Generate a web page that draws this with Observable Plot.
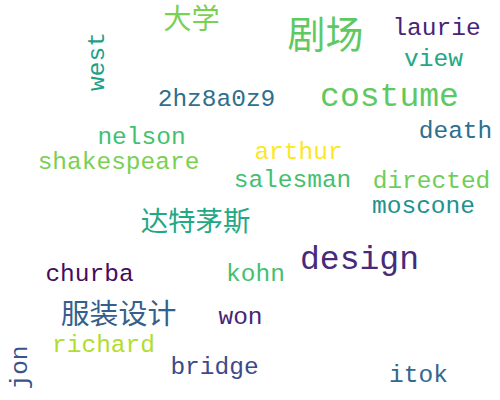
<!DOCTYPE html>
<html>
<head>
<meta charset="utf-8">
<script src="https://cdn.jsdelivr.net/npm/d3@7"></script>
<script src="https://cdn.jsdelivr.net/npm/@observablehq/plot@0.6"></script>
<style>
  html, body { margin: 0; padding: 0; background: #fff; }
</style>
</head>
<body>
<div id="chart"></div>
<script>
// Word cloud data
const words = ["大学","剧场","laurie","west","view","2hz8a0z9","costume","nelson","death","shakespeare","arthur","salesman","directed","moscone","达特茅斯","design","churba","kohn","服装设计","won","richard","jon","bridge","itok"];
// relative weight (font size driver)
const weights = [1.15,1.55,1,1,1,1,1.35,1,1,1,1,1,1,1,1.12,1.35,1,1,1.18,1,1,1,1,1];
// colour value on viridis scale
const colorValues = [0.80,0.75,0.10,0.56,0.60,0.36,0.75,0.70,0.36,0.80,1.0,0.70,0.78,0.50,0.60,0.12,0.03,0.70,0.30,0.10,0.88,0.25,0.22,0.33];
// layout (word centres, in layout units) and orientation
const layoutX = [191,325,436,96,433,216,389,141,455,118,298,292,431,423,195,359,89,255,118,240,103,19,214,418];
const layoutY = [19,35,27,61,58,98,95,136,130,161,151,179,180,205,222,258,273,273,314,316,344,367,366,374];
const rotations = [0,0,0,-90,0,0,0,0,0,0,0,0,0,0,0,0,0,0,0,0,0,-90,0,0];

const data = words.map((w, i) => ({
  word: w, weight: weights[i], c: colorValues[i],
  x: layoutX[i], y: layoutY[i], rotate: rotations[i]
}));

const baseSize = 24.5;

const chart = Plot.plot({
  width: 500,
  height: 400,
  margin: 0,
  x: {domain: [0, 500], range: [0, 500], axis: null},
  y: {domain: [0, 400], range: [0, 400], axis: null},
  color: {type: "linear", scheme: "viridis", domain: [0, 1]},
  style: {background: "#fff"},
  marks: [
    Plot.text(data.filter(d => d.rotate === 0), {
      x: "x", y: "y", text: "word", fill: "c",
      fontSize: d => baseSize * d.weight,
      fontFamily: "Liberation Mono, Noto Sans CJK SC",
      textAnchor: "middle", lineAnchor: "middle"
    }),
    Plot.text(data.filter(d => d.rotate !== 0), {
      x: "x", y: "y", text: "word", fill: "c",
      fontSize: d => baseSize * d.weight,
      rotate: -90,
      fontFamily: "Liberation Mono, Noto Sans CJK SC",
      textAnchor: "middle", lineAnchor: "middle"
    })
  ]
});
document.getElementById("chart").appendChild(chart);
</script>
</body>
</html>
